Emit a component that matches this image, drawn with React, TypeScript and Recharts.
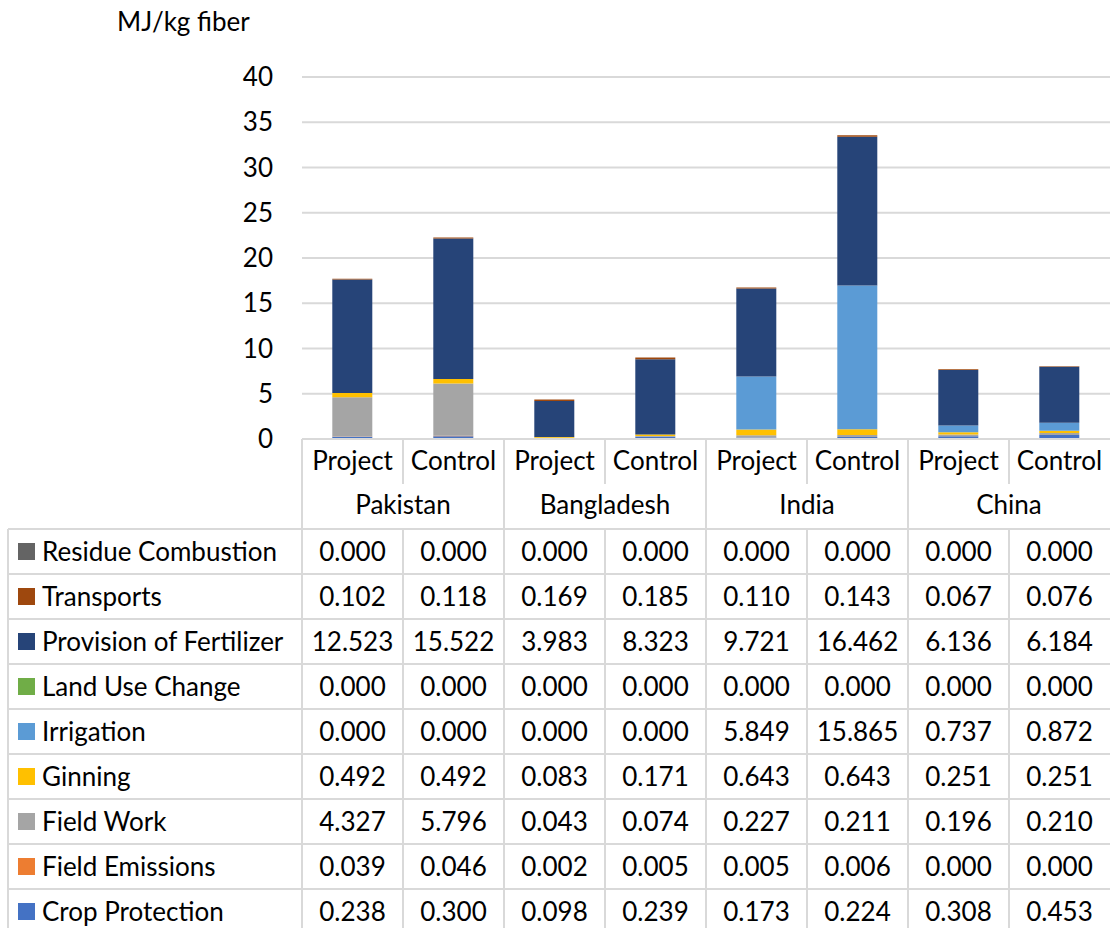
import React from 'react';
import { BarChart, Bar, XAxis, YAxis, CartesianGrid } from 'recharts';

const categories = ['Project', 'Control', 'Project', 'Control', 'Project', 'Control', 'Project', 'Control'];
const countries = ['Pakistan', 'Bangladesh', 'India', 'China'];
const yTicks = [0, 5, 10, 15, 20, 25, 30, 35, 40];

// MJ/kg fiber per contribution, one value per column
const residueCombustion = [0, 0, 0, 0, 0, 0, 0, 0];
const transports = [0.102, 0.118, 0.169, 0.185, 0.11, 0.143, 0.067, 0.076];
const fertilizer = [12.523, 15.522, 3.983, 8.323, 9.721, 16.462, 6.136, 6.184];
const landUseChange = [0, 0, 0, 0, 0, 0, 0, 0];
const irrigation = [0, 0, 0, 0, 5.849, 15.865, 0.737, 0.872];
const ginning = [0.492, 0.492, 0.083, 0.171, 0.643, 0.643, 0.251, 0.251];
const fieldWork = [4.327, 5.796, 0.043, 0.074, 0.227, 0.211, 0.196, 0.21];
const fieldEmissions = [0.039, 0.046, 0.002, 0.005, 0.005, 0.006, 0, 0];
const cropProtection = [0.238, 0.3, 0.098, 0.239, 0.173, 0.224, 0.308, 0.453];

// table order, top to bottom (stack order is the reverse)
const series = [
  { key: 'residue', name: 'Residue Combustion', color: '#646464', values: residueCombustion },
  { key: 'transports', name: 'Transports', color: '#9E480E', values: transports },
  { key: 'fertilizer', name: 'Provision of Fertilizer', color: '#264478', values: fertilizer },
  { key: 'landUse', name: 'Land Use Change', color: '#70AD47', values: landUseChange },
  { key: 'irrigation', name: 'Irrigation', color: '#5B9BD5', values: irrigation },
  { key: 'ginning', name: 'Ginning', color: '#FFC000', values: ginning },
  { key: 'fieldWork', name: 'Field Work', color: '#A5A5A5', values: fieldWork },
  { key: 'fieldEmissions', name: 'Field Emissions', color: '#ED7D31', values: fieldEmissions },
  { key: 'cropProtection', name: 'Crop Protection', color: '#4472C4', values: cropProtection },
];

const data = categories.map((cat, i) => {
  const row: Record<string, any> = { id: `${countries[Math.floor(i / 2)]}-${cat}` };
  series.forEach(s => { row[s.key] = s.values[i]; });
  return row;
});

const W = 1110;
const H = 928;
const PLOT_LEFT = 302;
const PLOT_TOP = 77;
const AXIS_Y = 439;
const COL_W = (W - PLOT_LEFT) / categories.length;
const TABLE_TOP = 529;
const ROW_H = 45;
const GRID = '#D9D9D9';
const FONT = 'Lato, "Noto Sans", sans-serif';
const FS = 26;

function CategoryTick(props: any) {
  const { x, y, payload } = props;
  const i = payload.index;
  const left = x - COL_W / 2;
  return (
    <g>
      <line x1={left} x2={left} y1={y} y2={y + (i % 2 === 0 ? 90 : 45)} stroke={GRID} strokeWidth={2} />
      <text x={x} y={y + 31} textAnchor="middle" fontSize={FS} fontFamily={FONT} fill="#000">
        {categories[i]}
      </text>
      {i % 2 === 0 && (
        <text x={x + COL_W / 2} y={y + 75} textAnchor="middle" fontSize={FS} fontFamily={FONT} fill="#000">
          {countries[i / 2]}
        </text>
      )}
    </g>
  );
}

function hLine(top: number, left: number, width: number, k: string) {
  return <div key={k} style={{ position: 'absolute', left, top: top - 1, width, height: 2, background: GRID }} />;
}

function vLine(left: number, top: number, height: number, k: string) {
  return <div key={k} style={{ position: 'absolute', left: left - 1, top, width: 2, height, background: GRID }} />;
}

export default function App() {
  const lines: React.ReactNode[] = [];
  for (let r = 0; r < series.length; r++) lines.push(hLine(TABLE_TOP + r * ROW_H, 8, W - 8, `h${r}`));
  lines.push(vLine(8, TABLE_TOP, H - TABLE_TOP, 'v-left'));
  for (let c = 0; c < categories.length; c++) lines.push(vLine(PLOT_LEFT + c * COL_W, TABLE_TOP, H - TABLE_TOP, `v${c}`));

  return (
    <div style={{ position: 'absolute', left: 0, top: 0, width: W, height: H, background: '#fff', overflow: 'hidden', fontFamily: FONT }}>
      <div style={{ position: 'absolute', left: 117, top: 5, fontSize: FS, color: '#000' }}>MJ/kg fiber</div>
      <BarChart
        width={W}
        height={H}
        data={data}
        margin={{ top: PLOT_TOP, right: 0, bottom: H - AXIS_Y - 90, left: PLOT_LEFT - 60 }}
        barCategoryGap="30%"
      >
        <CartesianGrid vertical={false} stroke={GRID} strokeWidth={2} />
        <XAxis
          dataKey="id"
          height={90}
          axisLine={{ stroke: GRID, strokeWidth: 2 }}
          tickLine={false}
          tickSize={0}
          tickMargin={0}
          interval={0}
          tick={<CategoryTick />}
        />
        <YAxis
          width={60}
          domain={[0, 40]}
          ticks={yTicks}
          axisLine={false}
          tickLine={false}
          tickMargin={23}
          tick={{ fontSize: FS, fontFamily: FONT, fill: '#000' }}
        />
        {[...series].reverse().map(s => (
          <Bar key={s.key} dataKey={s.key} name={s.name} stackId="a" fill={s.color} isAnimationActive={false} />
        ))}
      </BarChart>
      {lines}
      {series.map((s, r) => {
        const top = TABLE_TOP + r * ROW_H;
        return (
          <React.Fragment key={s.key}>
            <div style={{ position: 'absolute', left: 18, top: top + 14, width: 17, height: 17, background: s.color }} />
            <div style={{ position: 'absolute', left: 42, top, height: ROW_H, lineHeight: `${ROW_H}px`, fontSize: FS, color: '#000', whiteSpace: 'nowrap' }}>
              {s.name}
            </div>
            {s.values.map((v, c) => (
              <div
                key={c}
                style={{ position: 'absolute', left: PLOT_LEFT + c * COL_W, top, width: COL_W, height: ROW_H, lineHeight: `${ROW_H}px`, textAlign: 'center', fontSize: FS, color: '#000' }}
              >
                {v.toFixed(3)}
              </div>
            ))}
          </React.Fragment>
        );
      })}
    </div>
  );
}
